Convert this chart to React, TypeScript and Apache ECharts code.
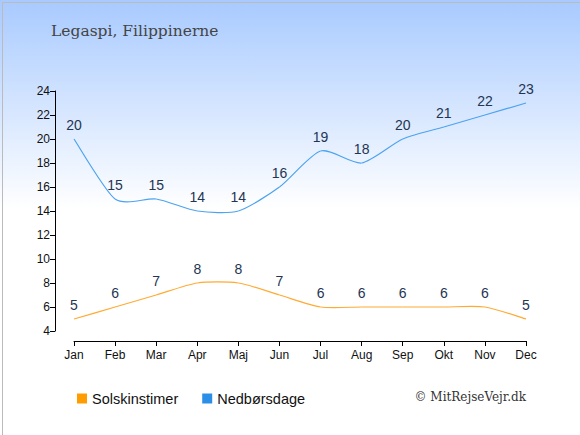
import React, { useEffect, useRef } from "react";
import * as echarts from "echarts";

const months = ["Jan", "Feb", "Mar", "Apr", "Maj", "Jun", "Jul", "Aug", "Sep", "Okt", "Nov", "Dec"];
const sunshine = [5, 6, 7, 8, 8, 7, 6, 6, 6, 6, 6, 5];
const rainDays = [20, 15, 15, 14, 14, 16, 19, 18, 20, 21, 22, 23];
const seriesNames = ["Solskinstimer", "Nedbørsdage"];
const titleText = "Legaspi, Filippinerne";
const creditText = "© MitRejseVejr.dk";

const TENSION = 0.12;

function makeRenderItem(values: number[], lineColor: string) {
  return (params: any, api: any) => {
    const i = params.dataIndex;
    const n = values.length;
    const pt = (j: number) => {
      const k = Math.max(0, Math.min(n - 1, j));
      return api.coord([k, values[k]]);
    };
    const p1 = pt(i);
    const children: any[] = [];
    if (i < n - 1) {
      const p0 = pt(i - 1);
      const p2 = pt(i + 1);
      const p3 = pt(i + 2);
      children.push({
        type: "bezierCurve",
        shape: {
          x1: p1[0],
          y1: p1[1],
          x2: p2[0],
          y2: p2[1],
          cpx1: p1[0] + (p2[0] - p0[0]) * TENSION,
          cpy1: p1[1] + (p2[1] - p0[1]) * TENSION,
          cpx2: p2[0] - (p3[0] - p1[0]) * TENSION,
          cpy2: p2[1] - (p3[1] - p1[1]) * TENSION,
        },
        style: { fill: "none", stroke: lineColor, lineWidth: 1.2 },
        silent: true,
      });
    }
    children.push({
      type: "text",
      x: p1[0],
      y: p1[1] - 14,
      style: {
        text: String(values[i]),
        fill: "#233553",
        fontSize: 14,
        fontFamily: "Liberation Sans, Arial, sans-serif",
        align: "center",
        verticalAlign: "middle",
      },
      silent: true,
    });
    return { type: "group", children };
  };
}

export default function App() {
  const ref = useRef<HTMLDivElement>(null);
  useEffect(() => {
    document.body.style.margin = "0";
    const chart = echarts.init(ref.current!, undefined, { renderer: "svg" });
    chart.setOption({
      animation: false,
      backgroundColor: new echarts.graphic.LinearGradient(0, 0, 0, 1, [
        { offset: 0, color: "#a8caff" },
        { offset: 0.48, color: "#ffffff" },
        { offset: 1, color: "#ffffff" },
      ]),
      grid: { left: 74, right: 54, top: 91, bottom: 104 },
      title: {
        text: titleText,
        left: 46,
        top: 18,
        textStyle: {
          fontFamily: "DejaVu Serif, serif",
          fontWeight: "normal",
          fontSize: 15.5,
          color: "#444444",
        },
      },
      legend: {
        bottom: 24,
        left: 72,
        itemWidth: 10,
        itemHeight: 10,
        itemGap: 24,
        icon: "rect",
        textStyle: {
          fontFamily: "Liberation Sans, Arial, sans-serif",
          fontSize: 14.5,
          color: "#111111",
        },
        data: seriesNames,
      },
      graphic: [
        {
          type: "text",
          right: 54,
          top: 391,
          style: {
            text: creditText,
            fontFamily: "DejaVu Serif, serif",
            fontSize: 12,
            fill: "#333333",
          },
        },
        {
          type: "rect",
          left: 0,
          top: 0,
          shape: { x: 0.5, y: 0.5, width: 579, height: 434 },
          style: { fill: "none", stroke: "#bbbbbb", lineWidth: 1 },
          silent: true,
        },
      ],
      xAxis: {
        type: "category",
        data: months,
        boundaryGap: false,
        offset: 10,
        axisLine: { lineStyle: { color: "#000000", width: 1 } },
        axisTick: { alignWithLabel: true, length: 5, lineStyle: { color: "#000" } },
        axisLabel: {
          color: "#111111",
          fontSize: 12,
          margin: 8,
          fontFamily: "Liberation Sans, Arial, sans-serif",
        },
        splitLine: { show: false },
      },
      yAxis: {
        type: "value",
        min: 4,
        max: 24,
        interval: 2,
        offset: 19,
        axisLine: { show: true, lineStyle: { color: "#000000", width: 1 } },
        axisTick: { show: true, length: 5, lineStyle: { color: "#000" } },
        axisLabel: {
          color: "#111111",
          fontSize: 12,
          margin: 5,
          fontFamily: "Liberation Sans, Arial, sans-serif",
        },
        splitLine: { show: false },
      },
      series: [
        {
          name: seriesNames[0],
          type: "custom",
          data: sunshine.map((v, i) => [i, v]),
          encode: { x: 0, y: 1 },
          itemStyle: { color: "#ff9c00" },
          renderItem: makeRenderItem(sunshine, "#ffaa33"),
        },
        {
          name: seriesNames[1],
          type: "custom",
          data: rainDays.map((v, i) => [i, v]),
          encode: { x: 0, y: 1 },
          itemStyle: { color: "#2b8fe8" },
          renderItem: makeRenderItem(rainDays, "#4da3ef"),
        },
      ],
    });
    return () => chart.dispose();
  }, []);
  return <div ref={ref} style={{ width: 580, height: 435 }} />;
}
